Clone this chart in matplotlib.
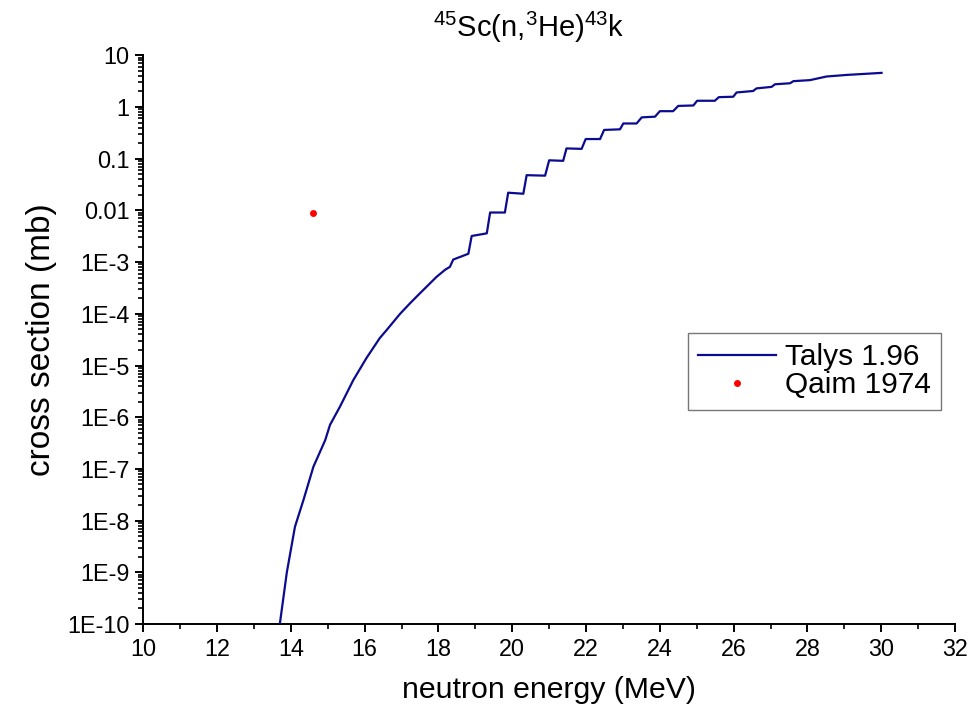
import matplotlib
matplotlib.use("Agg")
import matplotlib.pyplot as plt
from matplotlib.ticker import LogLocator, MultipleLocator, FixedLocator, NullFormatter

plt.rcParams['font.family'] = ['Liberation Sans', 'DejaVu Sans']
plt.rcParams['mathtext.fontset'] = 'custom'
plt.rcParams['mathtext.rm'] = 'Liberation Sans'
plt.rcParams['mathtext.it'] = 'Liberation Sans'
plt.rcParams['mathtext.bf'] = 'Liberation Sans:bold'

# Talys 1.96 curve (neutron energy MeV, cross section mb)
talys_energy = [13.70, 13.89, 14.11, 14.34, 14.61, 14.93, 15.06, 15.33, 15.69, 16.05,
                16.41, 16.60, 16.96, 17.23, 17.50, 17.95, 18.18, 18.31, 18.40, 18.81,
                18.90, 19.31, 19.40, 19.80, 19.89, 20.30, 20.39, 20.89, 21.00, 21.38,
                21.47, 21.88, 21.99, 22.38, 22.49, 22.92, 23.01, 23.37, 23.51, 23.87,
                24.00, 24.36, 24.50, 24.91, 25.01, 25.49, 25.60, 25.99, 26.08, 26.53,
                26.62, 27.03, 27.12, 27.53, 27.62, 28.07, 28.52, 29.06, 30.01]
talys_xs = [1.0e-10, 1.0e-9, 7.6e-9, 2.5e-8, 1.1e-7, 3.6e-7, 7.1e-7, 1.6e-6, 5.2e-6, 1.4e-5,
            3.4e-5, 4.9e-5, 1.0e-4, 1.6e-4, 2.5e-4, 5.2e-4, 7.1e-4, 8.1e-4, 1.12e-3, 1.45e-3,
            3.2e-3, 3.6e-3, 9.1e-3, 9.1e-3, 2.2e-2, 2.1e-2, 4.8e-2, 4.7e-2, 9.3e-2, 9.1e-2,
            0.158, 0.155, 0.24, 0.24, 0.36, 0.37, 0.48, 0.48, 0.63, 0.65,
            0.83, 0.83, 1.05, 1.07, 1.32, 1.32, 1.55, 1.58, 1.91, 2.04,
            2.29, 2.45, 2.75, 2.88, 3.16, 3.31, 3.89, 4.17, 4.57]

# Qaim 1974 measurement
qaim_energy = [14.6]
qaim_xs = [8.9e-3]

y_tick_values = [1e-10, 1e-9, 1e-8, 1e-7, 1e-6, 1e-5, 1e-4, 1e-3, 1e-2, 1e-1, 1, 10]
y_tick_labels = ["1E-10", "1E-9", "1E-8", "1E-7", "1E-6", "1E-5", "1E-4", "1E-3",
                 "0.01", "0.1", "1", "10"]
x_tick_values = [10, 12, 14, 16, 18, 20, 22, 24, 26, 28, 30, 32]

fig = plt.figure(figsize=(9.71, 7.2), dpi=100)
ax = fig.add_axes([0.1476, 0.1333, 0.8359, 0.7899])

ax.plot(talys_energy, talys_xs, color='#0b0b8f', lw=1.6, label='Talys 1.96', zorder=3)
ax.plot(qaim_energy, qaim_xs, 'o', color='#ff0000', ms=5, mec='none', label='Qaim 1974', zorder=4)

ax.set_yscale('log')
ax.set_xlim(10, 32)
ax.set_ylim(1e-10, 10)

ax.yaxis.set_major_locator(FixedLocator(y_tick_values))
ax.set_yticklabels(y_tick_labels)
ax.yaxis.set_minor_locator(LogLocator(base=10, subs=range(2, 10), numticks=100))
ax.yaxis.set_minor_formatter(NullFormatter())
ax.xaxis.set_major_locator(FixedLocator(x_tick_values))
ax.set_xticklabels([str(v) for v in x_tick_values])
ax.xaxis.set_minor_locator(MultipleLocator(1))

for side in ['top', 'right']:
    ax.spines[side].set_visible(False)
for side in ['left', 'bottom']:
    ax.spines[side].set_linewidth(1.4)

ax.tick_params(axis='both', which='major', direction='out', length=6, width=1.4,
               labelsize=16.8, pad=4)
ax.tick_params(axis='both', which='minor', direction='out', length=3.5, width=1.2)

ax.set_xlabel('neutron energy (MeV)', fontsize=21.8, labelpad=11)
ax.set_ylabel('cross section (mb)', fontsize=24, labelpad=7)

fig.text(529 / 971, 1 - 27 / 720, r'$^{45}$Sc(n,$^{3}$He)$^{43}$k', fontsize=21,
         ha='center', va='center')

leg = ax.legend(loc='upper left', bbox_to_anchor=(0.671, 0.512), fontsize=21.5,
                frameon=True, fancybox=False, handlelength=2.6, handletextpad=0.3,
                borderpad=0.35, labelspacing=0.0, borderaxespad=0.0)
leg.get_frame().set_edgecolor('#555555')
leg.get_frame().set_linewidth(1.0)

fig.savefig('out.png', dpi=100)
